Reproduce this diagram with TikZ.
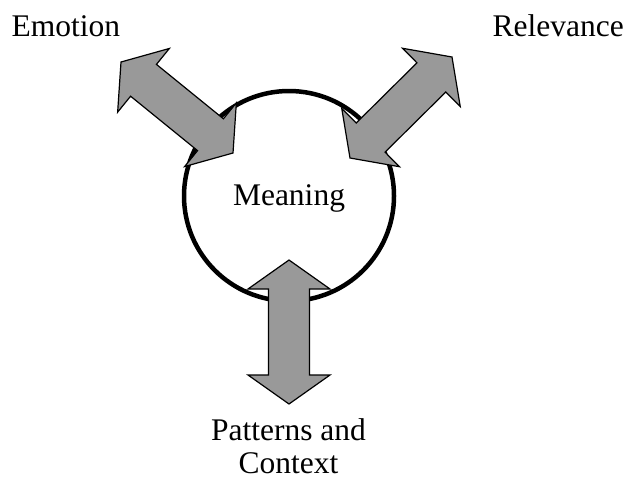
\documentclass[tikz,border=0pt]{standalone}
\usepackage{fontspec}
\setmainfont{Liberation Serif}
\usetikzlibrary{calc}
\definecolor{arrowfill}{RGB}{153,153,153}

% Double-headed block arrow between two tip coordinates
\newcommand{\dblblock}[2]{%
  \path ($(#1)!29pt!(#2)$) coordinate (ha) ($(#2)!29pt!(#1)$) coordinate (hb);
  \draw[blockarrow] (#1)
    -- ($(ha)!41pt!90:(#2)$) -- ($(ha)!20.5pt!90:(#2)$)
    -- ($(hb)!20.5pt!-90:(#1)$) -- ($(hb)!41pt!-90:(#1)$)
    -- (#2)
    -- ($(hb)!41pt!90:(#1)$) -- ($(hb)!20.5pt!90:(#1)$)
    -- ($(ha)!20.5pt!-90:(#2)$) -- ($(ha)!41pt!-90:(#2)$)
    -- cycle;}

\tikzset{
  blockarrow/.style={draw=black, fill=arrowfill, line width=1.2pt, line join=miter},
  ring/.style={circle, draw=black, fill=white, line width=4.5pt, minimum size=210pt, inner sep=0pt},
  label/.style={inner sep=0pt, font=\fontsize{31.5}{33}\selectfont}
}

\begin{document}
\begin{tikzpicture}[x=1pt, y=-1pt]
  \useasboundingbox (0,0) rectangle (628,482);

  % central circle and its text
  \node[ring] (ring) at (289,196) {};
  \node[label, anchor=base] (meaning) at (289,205) {Meaning};

  % outer labels
  \node[label, anchor=base west] (emotion) at (11.5,36) {Emotion};
  \node[label, anchor=base east] (relevance) at (624,36) {Relevance};
  \node[label, anchor=base] (patterns) at (288.5,440.7) {Patterns and};
  \node[label, anchor=base] (context) at (288.5,473.3) {Context};

  % arrow tips
  \coordinate (emoOut) at (121,62);
  \coordinate (emoIn)  at (233,153);
  \coordinate (relOut) at (452,57);
  \coordinate (relIn)  at (350,158);
  \coordinate (patIn)  at (289,260);
  \coordinate (patOut) at (289,404);

  % block arrows
  \dblblock{emoOut}{emoIn}
  \dblblock{relIn}{relOut}
  \dblblock{patIn}{patOut}
\end{tikzpicture}
\end{document}
